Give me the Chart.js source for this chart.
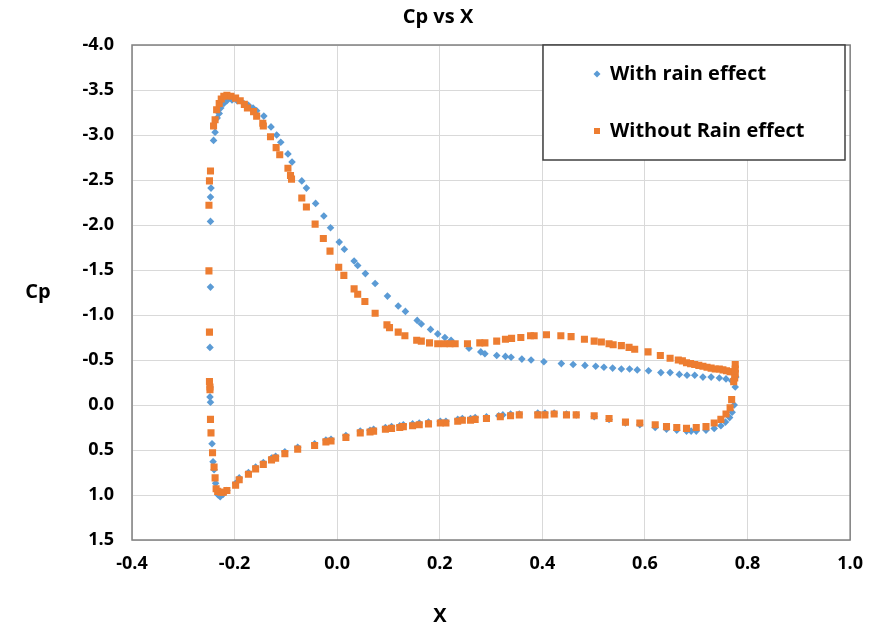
<!DOCTYPE html>
<html>
<head>
<meta charset="utf-8">
<script src="https://cdn.jsdelivr.net/npm/chart.js@4/dist/chart.umd.min.js"></script>
<style>
  html, body { margin: 0; background: #fff; }
</style>
</head>
<body>
<canvas id="cp" width="876" height="627"></canvas>
<script>
// Pressure coefficient around the section, two runs.
const chartTitle = "Cp vs X";
const xTitle = "X";
const yTitle = "Cp";
const seriesNames = ["With rain effect", "Without Rain effect"];

const rainX = [
  0.774, 0.770, 0.765, 0.757, 0.748, 0.735, 0.719, 0.700, 0.690, 0.681, 0.662, 0.642, 0.620, 0.590, 0.562, 0.530,
  0.501, 0.466, 0.447, 0.423, 0.405, 0.391, 0.355, 0.338, 0.323, 0.315, 0.291, 0.269, 0.260, 0.244, 0.235, 0.212,
  0.201, 0.178, 0.160, 0.147, 0.129, 0.122, 0.106, 0.094, 0.071, 0.064, 0.045, 0.017, -0.012, -0.022, -0.044, -0.077,
  -0.102, -0.120, -0.128, -0.144, -0.159, -0.173, -0.191, -0.198, -0.215, -0.222, -0.228,
  -0.232, -0.237, -0.240, -0.242, -0.244, -0.247, -0.248, -0.248, -0.248, -0.247, -0.247, -0.247, -0.246, -0.241,
  -0.238, -0.234, -0.230, -0.227, -0.221, -0.215, -0.205, -0.195, -0.182, -0.173, -0.164, -0.157, -0.143, -0.129,
  -0.118, -0.110, -0.096, -0.088, -0.069, -0.060, -0.042, -0.026, -0.013, 0.004, 0.014, 0.033, 0.040, 0.055, 0.074,
  0.098, 0.119, 0.133, 0.156, 0.164, 0.182, 0.196, 0.210, 0.222, 0.257, 0.280, 0.288, 0.311, 0.328, 0.339, 0.360,
  0.378, 0.403, 0.437, 0.460, 0.483, 0.504, 0.520, 0.537, 0.554, 0.570, 0.585, 0.607, 0.631, 0.649, 0.667, 0.682,
  0.697, 0.713, 0.729, 0.745, 0.758, 0.769, 0.777, 0.776
];
const rainCp = [
  0.00, 0.08, 0.14, 0.19, 0.23, 0.26, 0.28, 0.29, 0.29, 0.29, 0.28, 0.27, 0.25, 0.22, 0.20, 0.16,
  0.13, 0.11, 0.10, 0.09, 0.09, 0.09, 0.10, 0.10, 0.11, 0.12, 0.13, 0.14, 0.15, 0.15, 0.16, 0.18,
  0.18, 0.19, 0.20, 0.21, 0.22, 0.23, 0.24, 0.25, 0.27, 0.28, 0.29, 0.34, 0.38, 0.39, 0.43, 0.47,
  0.52, 0.57, 0.59, 0.64, 0.69, 0.75, 0.81, 0.87, 0.95, 0.99, 1.02,
  1.00, 0.87, 0.72, 0.63, 0.43, -0.03, -0.09, -0.20, -0.64, -1.31, -2.04, -2.31, -2.41, -2.94,
  -3.03, -3.19, -3.24, -3.30, -3.35, -3.38, -3.39, -3.38, -3.35, -3.33, -3.30, -3.27, -3.21, -3.09,
  -3.00, -2.92, -2.79, -2.70, -2.49, -2.41, -2.24, -2.10, -1.97, -1.81, -1.73, -1.60, -1.55, -1.46, -1.35,
  -1.21, -1.10, -1.04, -0.94, -0.90, -0.84, -0.79, -0.75, -0.72, -0.63, -0.59, -0.57, -0.55, -0.54, -0.53, -0.51,
  -0.50, -0.48, -0.46, -0.45, -0.44, -0.43, -0.42, -0.41, -0.40, -0.40, -0.39, -0.38, -0.36, -0.36, -0.34, -0.33,
  -0.33, -0.31, -0.31, -0.30, -0.29, -0.27, -0.31, -0.20
];

const dryX = [
  0.769, 0.766, 0.758, 0.748, 0.735, 0.719, 0.700, 0.681, 0.662, 0.642, 0.620, 0.590, 0.562, 0.530, 0.501, 0.466,
  0.447, 0.423, 0.405, 0.391, 0.355, 0.338, 0.318, 0.291, 0.269, 0.260, 0.244, 0.235, 0.212, 0.201, 0.178, 0.160,
  0.147, 0.129, 0.122, 0.106, 0.094, 0.071, 0.064, 0.045, 0.017, -0.012, -0.022, -0.044, -0.077, -0.102, -0.120,
  -0.128, -0.144, -0.159, -0.173, -0.191, -0.198, -0.215, -0.222, -0.227,
  -0.233, -0.236, -0.238, -0.240, -0.243, -0.246, -0.247, -0.248, -0.248, -0.249, -0.249, -0.250, -0.250, -0.249,
  -0.247, -0.241, -0.238, -0.235, -0.230, -0.226, -0.221, -0.215, -0.207, -0.198, -0.189, -0.181, -0.175, -0.163,
  -0.157, -0.145, -0.144, -0.130, -0.119, -0.112, -0.096, -0.091, -0.089, -0.069, -0.060, -0.043, -0.027, -0.014,
  0.003, 0.013, 0.033, 0.040, 0.054, 0.074, 0.097, 0.102, 0.119, 0.132, 0.155, 0.164, 0.180, 0.196, 0.209, 0.220,
  0.230, 0.254, 0.278, 0.288, 0.311, 0.328, 0.340, 0.358, 0.377, 0.384, 0.408, 0.436, 0.456, 0.482, 0.501, 0.515,
  0.530, 0.538, 0.554, 0.569, 0.580, 0.606, 0.630, 0.649, 0.665, 0.673, 0.681, 0.689, 0.697, 0.705, 0.713, 0.721,
  0.729, 0.737, 0.745, 0.752, 0.759, 0.766, 0.772, 0.776, 0.776, 0.776, 0.775, 0.773
];
const dryCp = [
  -0.06, 0.03, 0.10, 0.16, 0.20, 0.24, 0.25, 0.26, 0.25, 0.24, 0.22, 0.20, 0.19, 0.15, 0.12, 0.11,
  0.11, 0.10, 0.11, 0.11, 0.11, 0.12, 0.13, 0.15, 0.16, 0.17, 0.17, 0.18, 0.20, 0.20, 0.21, 0.22,
  0.23, 0.24, 0.25, 0.26, 0.27, 0.29, 0.30, 0.31, 0.36, 0.40, 0.41, 0.45, 0.49, 0.54, 0.59,
  0.61, 0.66, 0.71, 0.77, 0.83, 0.89, 0.95, 0.97, 0.97,
  0.96, 0.93, 0.81, 0.69, 0.53, 0.31, 0.16, -0.17, -0.20, -0.26, -0.81, -1.49, -2.22, -2.49,
  -2.60, -3.10, -3.17, -3.28, -3.35, -3.40, -3.43, -3.44, -3.43, -3.41, -3.38, -3.34, -3.30, -3.26,
  -3.21, -3.13, -3.10, -2.98, -2.86, -2.78, -2.63, -2.55, -2.51, -2.30, -2.20, -2.01, -1.85, -1.71,
  -1.53, -1.44, -1.29, -1.23, -1.15, -1.02, -0.89, -0.86, -0.81, -0.77, -0.72, -0.71, -0.69, -0.68, -0.68, -0.68,
  -0.68, -0.68, -0.69, -0.69, -0.71, -0.73, -0.74, -0.75, -0.77, -0.77, -0.78, -0.77, -0.76, -0.73, -0.71, -0.70,
  -0.68, -0.67, -0.66, -0.64, -0.62, -0.59, -0.55, -0.52, -0.50, -0.49, -0.47, -0.46, -0.45, -0.44, -0.43, -0.42,
  -0.41, -0.40, -0.40, -0.39, -0.38, -0.37, -0.37, -0.45, -0.40, -0.35, -0.30, -0.26
];

const xTicks = [-0.4, -0.2, 0.0, 0.2, 0.4, 0.6, 0.8, 1.0];
const yTicks = [-4.0, -3.5, -3.0, -2.5, -2.0, -1.5, -1.0, -0.5, 0.0, 0.5, 1.0, 1.5];

const BLUE = "#5b9bd5";
const ORANGE = "#ed7d31";
const FONT = "'Open Sans', sans-serif";

const toPoints = (xs, ys) => xs.map((x, i) => ({ x, y: ys[i] }));

// Frame, titles and the boxed legend are drawn by hand.
const decor = {
  id: "decor",
  afterDraw(chart) {
    const { ctx, chartArea: a } = chart;
    ctx.save();
    ctx.strokeStyle = "#808080";
    ctx.lineWidth = 1.5;
    ctx.strokeRect(a.left, a.top, a.right - a.left, a.bottom - a.top);

    ctx.fillStyle = "#000";
    ctx.textAlign = "center";
    ctx.textBaseline = "middle";
    ctx.font = "bold 20px " + FONT;
    ctx.fillText(chartTitle, chart.width / 2, 17);
    ctx.fillText(yTitle, 38, 292);
    ctx.fillText(xTitle, 440, 616);

    // legend box
    const bx = 543, by = a.top, bw = 302, bh = 115;
    ctx.fillStyle = "#fff";
    ctx.fillRect(bx, by, bw, bh);
    ctx.strokeStyle = "#404040";
    ctx.lineWidth = 1.5;
    ctx.strokeRect(bx, by, bw, bh);

    const rows = [by + 29, by + 86];
    // diamond
    ctx.fillStyle = BLUE;
    ctx.beginPath();
    ctx.moveTo(597, rows[0] - 3.5);
    ctx.lineTo(600.5, rows[0]);
    ctx.lineTo(597, rows[0] + 3.5);
    ctx.lineTo(593.5, rows[0]);
    ctx.closePath();
    ctx.fill();
    // square
    ctx.fillStyle = ORANGE;
    ctx.fillRect(594, rows[1] - 3, 6, 6);

    ctx.fillStyle = "#000";
    ctx.textAlign = "left";
    ctx.font = "bold 20px " + FONT;
    seriesNames.forEach((name, i) => ctx.fillText(name, 610, rows[i]));
    ctx.restore();
  },
};

const tickFont = { family: FONT, size: 18, weight: "bold" };

new Chart(document.getElementById("cp"), {
  type: "scatter",
  data: {
    datasets: [
      {
        label: seriesNames[0],
        data: toPoints(rainX, rainCp),
        pointStyle: "rectRot",
        pointRadius: 3.8,
        backgroundColor: BLUE,
        borderColor: BLUE,
        borderWidth: 0,
        order: 1,
      },
      {
        label: seriesNames[1],
        data: toPoints(dryX, dryCp),
        pointStyle: "rect",
        pointRadius: 5,
        backgroundColor: ORANGE,
        borderColor: ORANGE,
        borderWidth: 0,
        order: 0,
      },
    ],
  },
  options: {
    responsive: false,
    animation: false,
    layout: { padding: { left: 0, top: 45, right: 17, bottom: 0 } },
    plugins: { legend: { display: false }, tooltip: { enabled: false }, title: { display: false } },
    scales: {
      x: {
        type: "linear",
        min: -0.4,
        max: 1.0,
        afterBuildTicks: (s) => { s.ticks = xTicks.map((v) => ({ value: v })); },
        afterFit: (s) => { s.height = 87; },
        ticks: { color: "#000", font: tickFont, padding: 13, callback: (v) => v.toFixed(1) },
        grid: { color: "#d9d9d9", lineWidth: 1, drawTicks: false },
        border: { display: false },
      },
      y: {
        type: "linear",
        min: -4.0,
        max: 1.5,
        reverse: true,
        afterBuildTicks: (s) => { s.ticks = yTicks.map((v) => ({ value: v })); },
        afterFit: (s) => { s.width = 132; },
        ticks: { color: "#000", font: tickFont, padding: 18, callback: (v) => v.toFixed(1) },
        grid: { color: "#d9d9d9", lineWidth: 1, drawTicks: false },
        border: { display: false },
      },
    },
  },
  plugins: [decor],
});
</script>
</body>
</html>
